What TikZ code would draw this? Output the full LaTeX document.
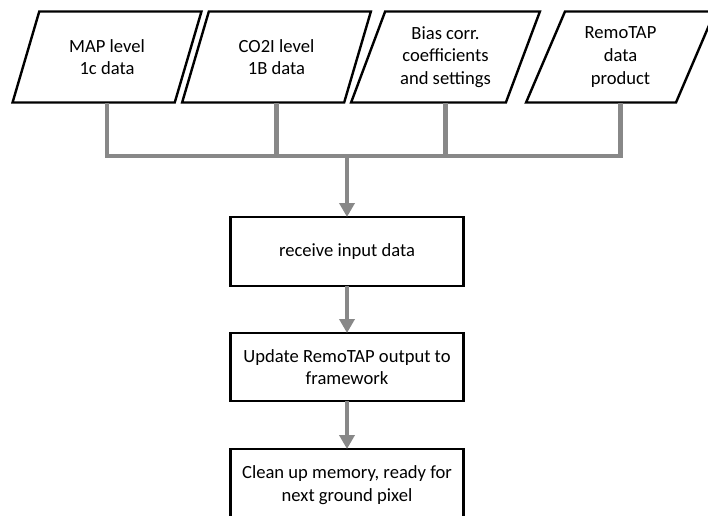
\documentclass[tikz,border=0pt]{standalone}
\usepackage{fontspec}
\setmainfont{Carlito}
\usetikzlibrary{shapes.geometric,arrows.meta}
\definecolor{linkgray}{RGB}{136,136,136}
\tikzset{
  datain/.style={trapezium, trapezium left angle=67.3, trapezium right angle=112.7,
    trapezium stretches=true, draw=black, line width=2.4pt, fill=white,
    minimum width=189pt, minimum height=91pt, inner sep=0pt, outer sep=0pt,
    align=center, font=\fontsize{18.6}{22.6}\selectfont},
  procbox/.style={rectangle, draw=black, line width=2.4pt, fill=white,
    minimum width=233pt, inner sep=0pt, outer sep=0pt,
    align=center, font=\fontsize{18.6}{22.6}\selectfont},
  link/.style={draw=linkgray, line width=4.5pt},
  flow/.style={link, -{Triangle[width=15pt,length=14pt]}}
}
\begin{document}
\begin{tikzpicture}[x=1pt,y=-1pt]
  \useasboundingbox (0,0) rectangle (708,515);
  \clip (0,0) rectangle (708,515);

  % input data sources
  \node[datain] (p1) at (107,57)   {MAP level\\1c data};
  \node[datain] (p2) at (276.5,57) {CO2I level\\1B data};
  \node[datain] (p3) at (445.5,57) {Bias corr.\\coefficients\\and settings};
  \node[datain] (p4) at (620.5,57) {RemoTAP\\data\\product};

  % processing steps
  \node[procbox, minimum height=69pt] (b1) at (347,251.5) {receive input data};
  \node[procbox, minimum height=68pt] (b2) at (347,367) {Update RemoTAP output to\\framework};
  \node[procbox, minimum height=72pt] (b3) at (347,485) {Clean up memory, ready for\\next ground pixel};

  % collecting bus
  \coordinate (bus) at (347,156);
  \draw[link, line join=miter] (p1.south) -- (p1.south |- bus) -- (p4.south |- bus) -- (p4.south);
  \draw[link] (p2.south) -- (p2.south |- bus);
  \draw[link] (p3.south) -- (p3.south |- bus);

  % flow between steps
  \draw[flow] (bus) -- (b1.north);
  \draw[flow] (b1.south) -- (b2.north);
  \draw[flow] (b2.south) -- (b3.north);
\end{tikzpicture}
\end{document}
